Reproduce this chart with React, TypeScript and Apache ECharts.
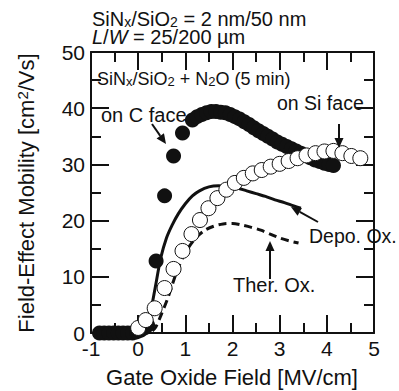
import React, { useEffect, useRef } from "react";
import * as echarts from "echarts";

const xTicks = [-1, 0, 1, 2, 3, 4, 5];
const xMinorTicks = [-0.5, 0.5, 1.5, 2.5, 3.5, 4.5];
const yTicks = [0, 10, 20, 30, 40, 50];
const yMinorTicks = [5, 15, 25, 35, 45];

// Filled circles: on C face
const cFaceData: [number, number][] = [
  [-0.82, 0], [-0.72, 0], [-0.62, 0], [-0.52, 0], [-0.42, 0], [-0.32, 0],
  [-0.22, 0], [-0.12, 0], [-0.03, 0.2], [0.05, 0.5], [0.13, 0.9], [0.2, 1.4],
  [0.38, 12.8], [0.56, 24.4], [0.75, 31.5], [0.94, 35.6], [1.15, 37.9],
  [1.25, 38.5], [1.35, 38.9], [1.45, 39.2], [1.55, 39.4], [1.65, 39.4],
  [1.75, 39.3], [1.85, 39.2], [1.95, 38.9], [2.05, 38.5], [2.15, 38.1],
  [2.25, 37.6], [2.35, 37.1], [2.45, 36.5], [2.55, 36.0], [2.65, 35.5],
  [2.75, 35.0], [2.85, 34.5], [2.95, 34.0], [3.05, 33.6], [3.15, 33.2],
  [3.25, 32.8], [3.35, 32.4], [3.45, 32.0], [3.55, 31.6], [3.65, 31.2],
  [3.75, 30.8], [3.85, 30.5], [3.95, 30.2], [4.05, 30.0], [4.14, 29.8],
];

// Open circles: on Si face
const siFaceData: [number, number][] = [
  [0.0, 0.9], [0.16, 2.3], [0.35, 4.4], [0.56, 8.0], [0.75, 11.4],
  [0.94, 14.6], [1.13, 17.6], [1.31, 20.1], [1.49, 22.2], [1.68, 24.0],
  [1.87, 25.5], [2.05, 26.7], [2.24, 27.6], [2.43, 28.4], [2.62, 29.0],
  [2.81, 29.6], [3.0, 30.1], [3.19, 30.6], [3.38, 31.1], [3.57, 31.6],
  [3.76, 32.0], [3.95, 32.3], [4.14, 32.4], [4.33, 32.0], [4.52, 31.5],
  [4.71, 31.1],
];

// Solid line: Depo. Ox.
const depoData: [number, number][] = [
  [0.12, 0], [0.2, 1.2], [0.28, 4.4], [0.39, 9.4], [0.48, 13.4], [0.6, 16.9],
  [0.72, 19.2], [0.85, 21.2], [1.0, 23.0], [1.15, 24.4], [1.3, 25.3],
  [1.5, 26.0], [1.7, 26.2], [1.9, 26.1], [2.1, 25.8], [2.3, 25.3],
  [2.5, 24.8], [2.7, 24.3], [2.9, 23.7], [3.1, 23.2], [3.3, 22.6], [3.45, 22.2],
];

// Dashed line: Ther. Ox.
const therData: [number, number][] = [
  [0.3, 0.4], [0.37, 1.0], [0.5, 3.5], [0.62, 6.0], [0.72, 8.5],
  [0.83, 11.2], [1.0, 14.3], [1.2, 16.7], [1.4, 18.2], [1.6, 19.0],
  [1.8, 19.4], [2.0, 19.5], [2.2, 19.2], [2.4, 18.8], [2.6, 18.3],
  [2.8, 17.6], [3.0, 16.9], [3.2, 16.4], [3.4, 16.0],
];

const INK = "#111";
const FONT = "Liberation Sans, Arial, Helvetica, sans-serif";
const W = 399;
const H = 391;
const GRID = { left: 91, right: 25, top: 52, bottom: 58 };
const X_MIN = -1;
const X_MAX = 5;
const Y_MIN = 0;
const Y_MAX = 50;

function txt(x: number, baseline: number, fs: number, text: string, rich?: any) {
  return {
    type: "text",
    x,
    y: baseline - 0.35 * fs,
    z: 100,
    style: {
      text,
      fill: INK,
      fontSize: fs,
      fontFamily: FONT,
      align: "left",
      verticalAlign: "middle",
      rich,
    },
  };
}

function arrow(x1: number, y1: number, x2: number, y2: number) {
  const dx = x2 - x1;
  const dy = y2 - y1;
  const len = Math.sqrt(dx * dx + dy * dy);
  const ux = dx / len;
  const uy = dy / len;
  const hl = 10;
  const hw = 4.5;
  const bx = x2 - ux * hl;
  const by = y2 - uy * hl;
  return [
    {
      type: "line",
      z: 100,
      shape: { x1, y1, x2: bx, y2: by },
      style: { stroke: INK, lineWidth: 2 },
    },
    {
      type: "polygon",
      z: 100,
      shape: {
        points: [
          [x2, y2],
          [bx - uy * hw, by + ux * hw],
          [bx + uy * hw, by - ux * hw],
        ],
      },
      style: { fill: INK },
    },
  ];
}

export default function App() {
  const ref = useRef<HTMLDivElement>(null);

  useEffect(() => {
    if (!ref.current) return;
    const chart = echarts.init(ref.current, undefined, { renderer: "svg" });

    const sub = (fs: number) => ({
      fontSize: fs,
      fontFamily: FONT,
      fill: INK,
      lineHeight: 8,
      verticalAlign: "bottom",
    });
    const norm = (fs: number) => ({
      fontSize: fs,
      fontFamily: FONT,
      fill: INK,
      lineHeight: fs,
    });

    const mkX = (pos: string, showLabel: boolean) => ({
      type: "value",
      min: X_MIN,
      max: X_MAX,
      interval: 1,
      position: pos,
      axisLine: { show: true, onZero: false, lineStyle: { color: INK, width: 2 } },
      axisTick: { show: false },
      minorTick: { show: false },
      splitLine: { show: false },
      axisLabel: {
        show: showLabel,
        fontSize: 21,
        color: INK,
        fontFamily: FONT,
        margin: 5,
        formatter: (v: number) => (xTicks.includes(v) ? String(v) : ""),
      },
    });
    const mkY = (pos: string, showLabel: boolean) => ({
      type: "value",
      min: Y_MIN,
      max: Y_MAX,
      interval: 10,
      position: pos,
      axisLine: { show: true, onZero: false, lineStyle: { color: INK, width: 2 } },
      axisTick: { show: false },
      minorTick: { show: false },
      splitLine: { show: false },
      axisLabel: {
        show: showLabel,
        fontSize: 21,
        color: INK,
        fontFamily: FONT,
        margin: 6,
        formatter: (v: number) => (yTicks.includes(v) ? String(v) : ""),
      },
    });

    // Tick marks on all four sides as a "lines" series in data space
    const plotW = W - GRID.left - GRID.right;
    const plotH = H - GRID.top - GRID.bottom;
    const MAJ_PX = 18;
    const MIN_PX = 10;
    const xLen = (p: number) => (p / plotH) * (Y_MAX - Y_MIN); // vertical ticks, in y units
    const yLen = (p: number) => (p / plotW) * (X_MAX - X_MIN); // horizontal ticks, in x units
    const tickSegs: any[] = [];
    const addX = (v: number, p: number) => {
      tickSegs.push({ coords: [[v, Y_MIN], [v, Y_MIN + xLen(p)]] });
      tickSegs.push({ coords: [[v, Y_MAX], [v, Y_MAX - xLen(p)]] });
    };
    const addY = (v: number, p: number) => {
      tickSegs.push({ coords: [[X_MIN, v], [X_MIN + yLen(p), v]] });
      tickSegs.push({ coords: [[X_MAX, v], [X_MAX - yLen(p), v]] });
    };
    xTicks.slice(1, -1).forEach((v) => addX(v, MAJ_PX));
    xMinorTicks.forEach((v) => addX(v, MIN_PX));
    yTicks.slice(1, -1).forEach((v) => addY(v, MAJ_PX));
    yMinorTicks.forEach((v) => addY(v, MIN_PX));

    const graphic: any[] = [
      txt(92, 26, 20, "{a|SiN}{s|x}{a|/SiO}{s|2}{a| = 2 nm/50 nm}", { a: norm(20), s: sub(14) }),
      txt(92, 44, 20, "{i|L}{a|/}{i|W}{a| = 25/200 µm}", {
        a: norm(20),
        i: { ...norm(20), fontStyle: "italic" },
      }),
      txt(97, 85, 18, "{a|SiN}{s|x}{a|/SiO}{s|2}{a| + N}{s|2}{a|O (5 min)}", { a: norm(18), s: sub(13) }),
      txt(101, 122, 20, "on C face"),
      txt(277, 110, 19.5, "on Si face"),
      txt(309, 243, 19.5, "Depo. Ox."),
      txt(233, 292, 20, "Ther. Ox."),
      ...arrow(152, 124, 166, 144),
      ...arrow(339, 124, 339, 148),
      ...arrow(318, 222, 291, 207),
      ...arrow(270, 279, 270, 241),
      {
        type: "text",
        x: 232,
        y: 385 - 0.35 * 22,
        z: 100,
        style: {
          text: "Gate Oxide Field [MV/cm]",
          fill: INK,
          fontSize: 22,
          fontFamily: FONT,
          align: "center",
          verticalAlign: "middle",
        },
      },
      {
        type: "text",
        x: 26,
        y: 193,
        rotation: Math.PI / 2,
        z: 100,
        style: {
          text: "{a|Field-Effect Mobility [cm}{p|2}{a|/Vs]}",
          fill: INK,
          fontSize: 22,
          fontFamily: FONT,
          align: "center",
          verticalAlign: "middle",
          rich: {
            a: norm(22),
            p: { fontSize: 15, fontFamily: FONT, fill: INK, lineHeight: 8, verticalAlign: "top" },
          },
        },
      },
    ];

    chart.setOption({
      animation: false,
      backgroundColor: "#fff",
      grid: { ...GRID, containLabel: false },
      xAxis: [mkX("bottom", true), mkX("top", false)],
      yAxis: [mkY("left", true), mkY("right", false)],
      graphic,
      series: [
        {
          type: "lines",
          coordinateSystem: "cartesian2d",
          xAxisIndex: 0,
          yAxisIndex: 0,
          data: tickSegs,
          symbol: ["none", "none"],
          lineStyle: { color: INK, width: 2, opacity: 1, curveness: 0 },
          silent: true,
          z: 1,
        },
        {
          type: "line",
          data: depoData,
          showSymbol: false,
          symbol: "none",
          smooth: 0.3,
          lineStyle: { color: INK, width: 3 },
          z: 2,
        },
        {
          type: "line",
          data: therData,
          showSymbol: false,
          symbol: "none",
          smooth: 0.3,
          lineStyle: { color: INK, width: 3, type: [8, 5] },
          z: 2,
        },
        {
          type: "scatter",
          data: cFaceData,
          symbol: "circle",
          symbolSize: 15,
          itemStyle: { color: INK, opacity: 1 },
          z: 3,
        },
        {
          type: "scatter",
          data: siFaceData,
          symbol: "circle",
          symbolSize: 15,
          itemStyle: { color: "#fff", borderColor: INK, borderWidth: 1, opacity: 1 },
          z: 4,
        },
      ],
    });

    return () => chart.dispose();
  }, []);

  return (
    <div
      ref={ref}
      style={{ position: "fixed", left: 0, top: 0, width: W, height: H, background: "#fff" }}
    />
  );
}
